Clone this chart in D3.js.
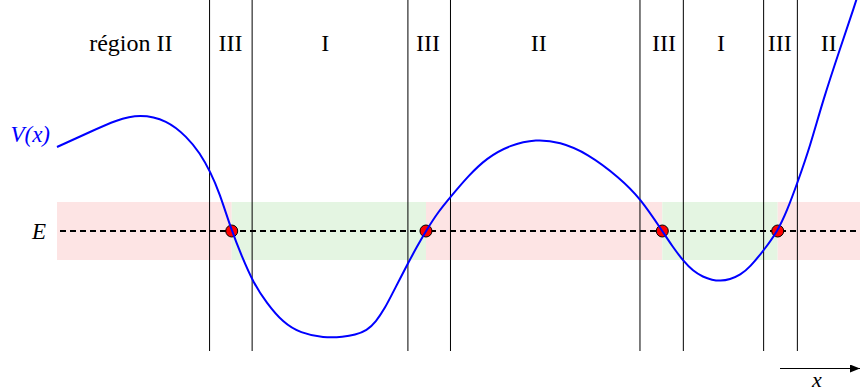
<!DOCTYPE html>
<html>
<head>
<meta charset="utf-8">
<script src="https://cdn.jsdelivr.net/npm/d3@7/dist/d3.min.js"></script>
<style>
  html, body { margin: 0; padding: 0; background: #fff; }
  svg { display: block; }
</style>
</head>
<body>
<script>
// Potential curve V(x), sampled along x
const curveX = [0.00, 0.41, 0.74, 1.03, 1.37, 1.62, 1.78, 1.91, 2.02, 2.176, 2.30, 2.44, 2.61, 2.82, 3.03,
                3.32, 3.57, 3.71, 3.86, 3.97, 4.085, 4.18, 4.27, 4.37, 4.48, 4.595, 4.745, 4.91, 5.12,
                5.35, 5.64, 5.97, 6.26, 6.60, 7.01, 7.26, 7.538, 7.66, 7.80, 7.92, 8.045, 8.16, 8.26,
                8.38, 8.51, 8.63, 8.80, 8.975, 9.09, 9.22, 9.38, 9.54, 9.75, 9.94, 10.0];
const curveV = [0.84, 0.99, 1.11, 1.17, 1.11, 0.94, 0.78, 0.59, 0.39, 0.00, -0.25, -0.51, -0.72, -0.92, -1.02,
                -1.07, -1.06, -1.04, -0.995, -0.91, -0.77, -0.62, -0.48, -0.325, -0.16, 0.00, 0.19, 0.35, 0.55,
                0.73, 0.86, 0.92, 0.89, 0.78, 0.53, 0.33, 0.00, -0.15, -0.30, -0.40, -0.46, -0.49, -0.50,
                -0.485, -0.44, -0.36, -0.195, 0.00, 0.20, 0.48, 0.85, 1.31, 1.82, 2.27, 2.43];

// Energy level and classical turning points where V(x) = E
const energy = 0;
const turningX = [2.176, 4.595, 7.538, 8.975];

// Region boundaries (vertical lines) and region names
const boundaryX = [1.90, 2.43, 4.37, 4.90, 7.26, 7.80, 8.80, 9.22];
const regionNames = ["région II", "III", "I", "III", "II", "III", "I", "III", "II"];
const regionNameX = [0.92, 2.16, 3.34, 4.62, 6.00, 7.56, 8.27, 9.00, 9.61];

// Bands along E: forbidden (V > E) and allowed (V < E) intervals
const bandEdges = [0, ...turningX, 10];
const bandKinds = ["forbidden", "allowed", "forbidden", "allowed", "forbidden"];
const bandHalfHeight = 0.29;

const W = 860, H = 392;
const serif = "'Liberation Serif', 'Times New Roman', 'DejaVu Serif', serif";
const x = d3.scaleLinear().domain([0, 10]).range([57, 860]);
const y = d3.scaleLinear().domain([-1.2, 2.31]).range([351, 0]);

const svg = d3.select("body").append("svg")
  .attr("width", W).attr("height", H)
  .attr("viewBox", `0 0 ${W} ${H}`);

const bandColour = { forbidden: "#fde4e4", allowed: "#e4f5e2" };

// Shaded bands
svg.append("g").selectAll("rect")
  .data(bandKinds.map((k, i) => ({ kind: k, x0: bandEdges[i], x1: bandEdges[i + 1] })))
  .join("rect")
  .attr("x", d => x(d.x0))
  .attr("width", d => x(d.x1) - x(d.x0))
  .attr("y", y(energy + bandHalfHeight))
  .attr("height", y(energy - bandHalfHeight) - y(energy + bandHalfHeight))
  .attr("fill", d => bandColour[d.kind]);

// Region boundaries
svg.append("g").selectAll("line")
  .data(boundaryX)
  .join("line")
  .attr("x1", d => x(d)).attr("x2", d => x(d))
  .attr("y1", 0).attr("y2", y(-1.2))
  .attr("stroke", "#000").attr("stroke-width", 1);

// Energy level
svg.append("line")
  .attr("x1", 60).attr("x2", x(10))
  .attr("y1", y(energy)).attr("y2", y(energy))
  .attr("stroke", "#000").attr("stroke-width", 2)
  .attr("stroke-dasharray", "6,4");

// Turning points
svg.append("g").selectAll("circle")
  .data(turningX)
  .join("circle")
  .attr("cx", d => x(d)).attr("cy", y(energy))
  .attr("r", 6)
  .attr("fill", "#ff0000").attr("stroke", "#000").attr("stroke-width", 1);

// Potential curve (smoothed B-spline through the samples)
const line = d3.line()
  .x((d, i) => x(curveX[i]))
  .y(d => y(d))
  .curve(d3.curveBasis);

svg.append("path")
  .attr("d", line(curveV))
  .attr("fill", "none")
  .attr("stroke", "#0000ff")
  .attr("stroke-width", 2);

// Region names
svg.append("g").selectAll("text")
  .data(regionNames)
  .join("text")
  .attr("x", (d, i) => x(regionNameX[i]))
  .attr("y", 51)
  .attr("text-anchor", "middle")
  .attr("font-family", serif)
  .attr("font-size", 24)
  .attr("fill", "#000")
  .text(d => d);

// Curve and energy labels
svg.append("text")
  .attr("x", 50).attr("y", 142)
  .attr("text-anchor", "end")
  .attr("font-family", serif)
  .attr("font-size", 23).attr("font-style", "italic")
  .attr("fill", "#0000ff")
  .text("V(x)");

svg.append("text")
  .attr("x", 39).attr("y", y(energy) + 8)
  .attr("text-anchor", "middle")
  .attr("font-family", serif)
  .attr("font-size", 23).attr("font-style", "italic")
  .attr("fill", "#000")
  .text("E");

// x direction arrow
svg.append("defs").append("marker")
  .attr("id", "arrowhead")
  .attr("viewBox", "0 0 10 8")
  .attr("refX", 10).attr("refY", 4)
  .attr("markerWidth", 10).attr("markerHeight", 8)
  .attr("markerUnits", "userSpaceOnUse")
  .attr("orient", "auto")
  .append("path").attr("d", "M0,0 L10,4 L0,8 Z").attr("fill", "#000");

svg.append("line")
  .attr("x1", 780).attr("x2", 860)
  .attr("y1", 368.5).attr("y2", 368.5)
  .attr("stroke", "#000").attr("stroke-width", 1)
  .attr("marker-end", "url(#arrowhead)");

svg.append("text")
  .attr("x", 817).attr("y", 387)
  .attr("text-anchor", "middle")
  .attr("font-family", serif)
  .attr("font-size", 22).attr("font-style", "italic")
  .attr("fill", "#000")
  .text("x");
</script>
</body>
</html>
